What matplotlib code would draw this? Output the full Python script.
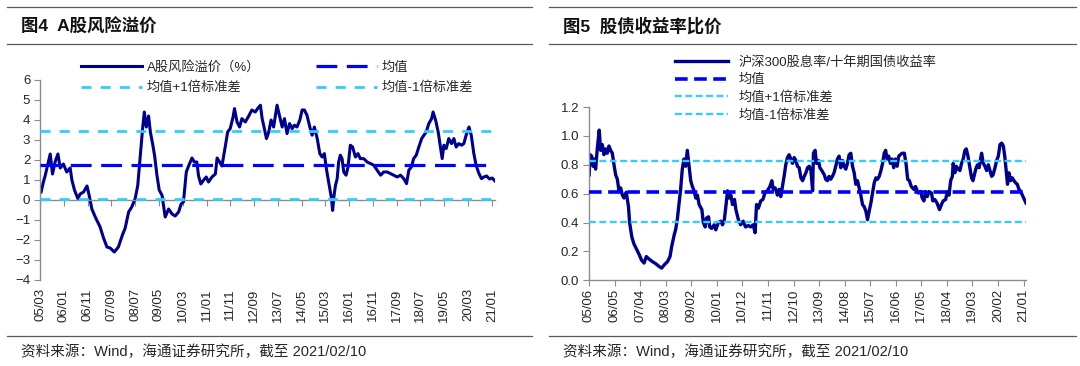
import numpy as np
import pandas as pd
import matplotlib
matplotlib.use('Agg')
import matplotlib.pyplot as plt
import matplotlib.dates as mdates
from matplotlib.lines import Line2D
from matplotlib.ticker import FormatStrFormatter

plt.rcParams['font.family'] = ['Liberation Sans', 'Noto Sans CJK SC']

# ---- data ----
# fig 4: A-share risk premium, x as decimal years
erp_t = [2005.20, 2005.28, 2005.34, 2005.52, 2005.60, 2005.69, 2005.79, 2005.87, 2005.98,
         2006.10, 2006.22, 2006.28, 2006.37, 2006.49, 2006.57, 2006.69, 2006.81, 2006.89, 2006.98,
         2007.10, 2007.27, 2007.39, 2007.51, 2007.62, 2007.77, 2007.91,
         2008.05, 2008.15, 2008.27, 2008.38, 2008.50, 2008.59, 2008.68, 2008.76, 2008.82, 2008.89, 2008.97,
         2009.03, 2009.11, 2009.18, 2009.26, 2009.34, 2009.44, 2009.55, 2009.67, 2009.79, 2009.90,
         2010.02, 2010.11, 2010.19, 2010.29, 2010.37, 2010.49, 2010.57, 2010.66, 2010.72, 2010.80, 2010.90, 2010.99,
         2011.07, 2011.19, 2011.31, 2011.37, 2011.46, 2011.54, 2011.66, 2011.74, 2011.83, 2011.93, 2011.98,
         2012.07, 2012.16, 2012.24, 2012.36, 2012.48, 2012.59, 2012.71, 2012.79, 2012.89, 2012.95,
         2013.00, 2013.10, 2013.18, 2013.26, 2013.35, 2013.47, 2013.56, 2013.65, 2013.73, 2013.82, 2013.91,
         2014.00, 2014.08, 2014.17, 2014.27, 2014.35, 2014.43, 2014.52, 2014.62, 2014.70, 2014.78, 2014.88, 2014.97,
         2015.05, 2015.13, 2015.20, 2015.24, 2015.31, 2015.38, 2015.42, 2015.47, 2015.52, 2015.58, 2015.63,
         2015.69, 2015.75, 2015.81, 2015.89, 2015.96,
         2016.04, 2016.12, 2016.22, 2016.31, 2016.39, 2016.51, 2016.63, 2016.75, 2016.86, 2016.98,
         2017.10, 2017.21, 2017.33, 2017.45, 2017.56, 2017.68, 2017.80, 2017.91,
         2018.01, 2018.09, 2018.18, 2018.26, 2018.35, 2018.44, 2018.54, 2018.62, 2018.70, 2018.79, 2018.89, 2018.94,
         2019.03, 2019.12, 2019.20, 2019.26, 2019.32, 2019.40, 2019.49, 2019.59, 2019.67, 2019.75, 2019.84, 2019.94,
         2020.02, 2020.10, 2020.20, 2020.28, 2020.37, 2020.45, 2020.55, 2020.64, 2020.72, 2020.82, 2020.92,
         2021.01, 2021.11]
erp_v = [0.4, 0.9, 1.2, 2.3, 1.3, 1.9, 2.3, 1.6, 1.8,
         1.4, 1.6, 1.0, 0.5, 0.07, 0.3, 0.4, 0.7, 0.2, -0.45,
         -0.85, -1.35, -1.9, -2.35, -2.4, -2.6, -2.35,
         -1.76, -1.4, -0.6, -0.35, 0.07, 0.73, 2.2, 3.57, 4.4, 3.65, 4.2,
         3.4, 2.8, 2.2, 1.24, 0.5, 0.23, -0.85, -0.45, -0.7, -0.8,
         -0.6, -0.2, -0.1, 1.4, 1.7, 2.1, 1.9, 1.9, 1.2, 0.8, 1.0, 1.15,
         0.9, 1.15, 1.3, 2.1, 1.9, 1.7, 2.7, 3.4, 3.57, 4.15, 4.57,
         3.9, 3.65, 4.07, 3.9, 4.2, 4.5, 4.4, 4.57, 4.74, 4.07,
         3.74, 3.07, 3.4, 4.0, 3.65, 4.74, 4.2, 3.65, 4.07, 3.32, 3.82,
         3.57, 3.74, 3.65, 4.0, 4.5, 4.5, 4.24, 3.65, 3.24, 3.65, 3.07, 2.32,
         2.15, 2.32, 1.57, 1.24, 0.65, 0.07, -0.52, 0.23, 0.73, 1.07, 1.9,
         2.24, 2.07, 1.4, 1.24, 1.65,
         2.74, 2.65, 2.15, 2.32, 2.07, 2.07, 1.9, 1.82, 1.74, 1.49,
         1.24, 1.4, 1.4, 1.32, 1.24, 1.15, 1.24, 1.07,
         0.82, 1.49, 1.65, 2.07, 2.24, 2.65, 3.07, 3.24, 3.4, 3.82, 4.07, 4.4,
         3.99, 3.4, 2.65, 2.07, 2.74, 2.57, 3.07, 2.82, 3.07, 2.65, 2.82, 2.74,
         2.82, 3.24, 3.65, 3.24, 2.32, 1.74, 1.32, 1.07, 1.15, 1.2, 1.05,
         1.1, 0.95]
erp_mean = 1.74
erp_std = 1.71
erp_ticks = ['05/03', '06/01', '06/11', '07/09', '08/07', '09/05', '10/03', '11/01', '11/11', '12/09',
             '13/07', '14/05', '15/03', '16/01', '16/11', '17/09', '18/07', '19/05', '20/03', '21/01']

# fig 5: CSI300 dividend yield / 10y government bond yield
ratio_t = [2005.42, 2005.45, 2005.51, 2005.56, 2005.61, 2005.65, 2005.71, 2005.78, 2005.83, 2005.89, 2005.95,
           2006.01, 2006.07, 2006.13, 2006.19, 2006.25, 2006.31, 2006.37, 2006.43, 2006.49, 2006.55, 2006.61,
           2006.67, 2006.75, 2006.83, 2006.87, 2006.95,
           2007.03, 2007.11, 2007.21, 2007.30, 2007.39, 2007.47, 2007.57, 2007.69, 2007.81, 2007.93,
           2008.02, 2008.11, 2008.23, 2008.32, 2008.38, 2008.47, 2008.52, 2008.58, 2008.64, 2008.70, 2008.76,
           2008.82, 2008.88, 2008.94,
           2009.00, 2009.06, 2009.12, 2009.18, 2009.24, 2009.30, 2009.36, 2009.46, 2009.51, 2009.58, 2009.62,
           2009.70, 2009.74, 2009.81, 2009.90, 2009.96,
           2010.05, 2010.14, 2010.20, 2010.26, 2010.32, 2010.38, 2010.44, 2010.50, 2010.56, 2010.63, 2010.68,
           2010.77, 2010.85, 2010.94,
           2011.03, 2011.13, 2011.21, 2011.30, 2011.37, 2011.42, 2011.49, 2011.57, 2011.65, 2011.73, 2011.81,
           2011.90, 2011.97,
           2012.02, 2012.09, 2012.17, 2012.23, 2012.29, 2012.35, 2012.41, 2012.47, 2012.53, 2012.59, 2012.65,
           2012.71, 2012.77, 2012.83, 2012.89, 2012.95,
           2013.01, 2013.07, 2013.13, 2013.19, 2013.25, 2013.31, 2013.37, 2013.43, 2013.46, 2013.52, 2013.57,
           2013.64, 2013.69, 2013.76, 2013.85, 2013.90, 2013.96,
           2014.02, 2014.08, 2014.14, 2014.20, 2014.26, 2014.32, 2014.38, 2014.44, 2014.50, 2014.56, 2014.62,
           2014.68, 2014.74, 2014.80, 2014.86, 2014.92, 2014.98,
           2015.04, 2015.10, 2015.16, 2015.22, 2015.28, 2015.34, 2015.40, 2015.46, 2015.52, 2015.58, 2015.64,
           2015.70, 2015.76, 2015.82, 2015.88, 2015.94,
           2016.00, 2016.05, 2016.10, 2016.16, 2016.22, 2016.28, 2016.34, 2016.40, 2016.46, 2016.52, 2016.58,
           2016.64, 2016.72, 2016.78, 2016.84, 2016.90, 2016.97,
           2017.06, 2017.12, 2017.21, 2017.30, 2017.36, 2017.42, 2017.48, 2017.54, 2017.60, 2017.69, 2017.74,
           2017.81, 2017.89, 2017.98,
           2018.05, 2018.11, 2018.20, 2018.26, 2018.32, 2018.38, 2018.44, 2018.47, 2018.53, 2018.58, 2018.65,
           2018.71, 2018.77, 2018.83, 2018.89, 2018.94,
           2019.00, 2019.06, 2019.13, 2019.18, 2019.23, 2019.28, 2019.34, 2019.40, 2019.46, 2019.49, 2019.55,
           2019.61, 2019.67, 2019.73, 2019.79, 2019.85, 2019.90, 2019.97,
           2020.03, 2020.09, 2020.15, 2020.21, 2020.27, 2020.32, 2020.38, 2020.42, 2020.47, 2020.53, 2020.59,
           2020.65, 2020.71, 2020.77, 2020.83, 2020.88, 2020.94,
           2021.00, 2021.08]
ratio_v = [0.73, 0.87, 0.86, 0.79, 0.84, 0.77, 0.91, 1.04, 0.90, 0.94, 0.87,
           0.91, 0.88, 0.93, 0.90, 0.88, 0.80, 0.73, 0.70, 0.62, 0.64, 0.59,
           0.57, 0.61, 0.51, 0.40, 0.30,
           0.25, 0.22, 0.18, 0.14, 0.12, 0.165, 0.147, 0.13, 0.115, 0.096,
           0.085, 0.107, 0.13, 0.165, 0.235, 0.315, 0.35, 0.42, 0.525, 0.63, 0.77,
           0.84, 0.79, 0.90,
           0.79, 0.69, 0.65, 0.62, 0.57, 0.59, 0.525, 0.49, 0.40, 0.37, 0.43,
           0.44, 0.37, 0.36, 0.385, 0.35,
           0.40, 0.41, 0.385, 0.41, 0.51, 0.62, 0.57, 0.59, 0.525, 0.56, 0.49,
           0.42, 0.385, 0.41,
           0.37, 0.38, 0.37, 0.385, 0.33, 0.525, 0.50, 0.55, 0.56, 0.61, 0.62,
           0.65, 0.69,
           0.63, 0.64, 0.59, 0.63, 0.58, 0.65, 0.72, 0.80, 0.85, 0.87, 0.84,
           0.81, 0.85, 0.83, 0.79, 0.78,
           0.71, 0.69, 0.72, 0.745, 0.78, 0.79, 0.76, 0.62, 0.88, 0.90, 0.81,
           0.83, 0.78, 0.76, 0.73, 0.70, 0.69,
           0.72, 0.70, 0.72, 0.745, 0.79, 0.84, 0.86, 0.78, 0.83, 0.79, 0.77,
           0.81, 0.87, 0.88, 0.79, 0.745, 0.665,
           0.69, 0.64, 0.59, 0.525, 0.51, 0.48, 0.42, 0.48, 0.535, 0.605, 0.675,
           0.71, 0.70, 0.72, 0.76, 0.81,
           0.88, 0.90, 0.84, 0.86, 0.81, 0.84, 0.78, 0.84, 0.79, 0.86, 0.87,
           0.88, 0.88, 0.81, 0.70, 0.69, 0.65,
           0.63, 0.65, 0.605, 0.615, 0.57, 0.55, 0.615, 0.58, 0.615, 0.605, 0.55,
           0.56, 0.535, 0.49,
           0.525, 0.55, 0.56, 0.615, 0.59, 0.69, 0.72, 0.81, 0.745, 0.79, 0.77,
           0.76, 0.81, 0.84, 0.90, 0.91,
           0.86, 0.79, 0.71, 0.69, 0.73, 0.77, 0.80, 0.78, 0.85, 0.88, 0.81,
           0.79, 0.76, 0.80, 0.76, 0.72, 0.73, 0.78,
           0.83, 0.86, 0.94, 0.95, 0.93, 0.86, 0.745, 0.665, 0.745, 0.69, 0.71,
           0.69, 0.675, 0.665, 0.63, 0.62, 0.595,
           0.57, 0.535]
ratio_mean = 0.614
ratio_std = 0.212
ratio_ticks = ['05/06', '06/05', '07/04', '08/03', '09/02', '10/01', '10/12', '11/11', '12/10',
               '13/09', '14/08', '15/07', '16/06', '17/05', '18/04', '19/03', '20/02', '21/01']

# ---- styles ----
W, H = 1080, 366
navy = '#000090'
blue = '#0000FF'
cyan = '#33CCFF'
axis_gray = '#8C8C8C'
rule_gray = '#5A5A5A'
txt = '#262626'


def to_num(years):
    out = []
    for y in years:
        yr = int(y)
        out.append(pd.Timestamp(yr, 1, 1) + pd.Timedelta(days=(y - yr) * 365.25))
    return mdates.date2num(out)


def label_num(labels):
    return mdates.date2num(pd.to_datetime(labels, format='%y/%m'))


def style_axes(ax, labels, x_end):
    ticks = label_num(labels)
    ax.set_xlim(ticks[0], to_num([x_end])[0])
    for s in ['top', 'right']:
        ax.spines[s].set_visible(False)
    for s in ['left', 'bottom']:
        ax.spines[s].set_color(axis_gray)
        ax.spines[s].set_linewidth(1.0)
    ax.spines['bottom'].set_position(('data', 0))
    ax.set_xticks(ticks)
    ax.tick_params(axis='x', labelbottom=False, direction='out', length=4, color=axis_gray)
    ax.tick_params(axis='y', direction='out', length=4, color=axis_gray,
                   labelsize=9.5, labelcolor=txt, pad=3)
    sec = ax.secondary_xaxis(0)
    sec.set_xticks(ticks, labels, rotation=90)
    sec.spines['bottom'].set_visible(False)
    sec.tick_params(length=0, labelsize=9.5, labelcolor=txt, pad=6)


fig = plt.figure(figsize=(W / 100, H / 100), dpi=100)

# ---- figure 4 ----
ax1 = fig.add_axes([40 / W, 1 - 280 / H, 455 / W, 200 / H])
h_main1, = ax1.plot(to_num(erp_t), erp_v, color=navy, lw=2.2, zorder=2)
h_mean1 = ax1.axhline(erp_mean, color=blue, lw=2.3, dashes=(6.5, 3), zorder=3)
h_up1 = ax1.axhline(erp_mean + erp_std, color=cyan, lw=2.0, dashes=(3.6, 3.3), zorder=3)
h_dn1 = ax1.axhline(erp_mean - erp_std, color=cyan, lw=2.0, dashes=(3.6, 3.3), zorder=3)
ax1.set_ylim(-4, 6)
ax1.set_yticks(range(-4, 7))
style_axes(ax1, erp_ticks, 2021.11)

fig.legend([h_main1, h_up1, h_mean1, h_dn1],
           ['A股风险溢价（%）', '均值+1倍标准差', '均值', '均值-1倍标准差'],
           loc='upper left', bbox_to_anchor=(81 / W, 1 - 61 / H), ncol=2, frameon=False,
           fontsize=9.5, handlelength=4.6, handletextpad=0.4, columnspacing=4.2,
           borderpad=0, borderaxespad=0, labelspacing=0.6, labelcolor=txt)

# ---- figure 5 ----
ax2 = fig.add_axes([589 / W, 1 - 280.4 / H, 437 / W, 173.4 / H])
h_main2, = ax2.plot(to_num(ratio_t), ratio_v, color=navy, lw=2.4, zorder=2)
h_mean2 = ax2.axhline(ratio_mean, color=blue, lw=2.6, dashes=(3.5, 1.8), zorder=3)
h_up2 = ax2.axhline(ratio_mean + ratio_std, color=cyan, lw=1.7, dashes=(2.9, 1.5), zorder=3)
h_dn2 = ax2.axhline(ratio_mean - ratio_std, color=cyan, lw=1.7, dashes=(2.9, 1.5), zorder=3)
ax2.set_ylim(0, 1.2)
ax2.set_yticks(np.arange(0, 1.21, 0.2))
ax2.yaxis.set_major_formatter(FormatStrFormatter('%.1f'))
style_axes(ax2, ratio_ticks, 2021.08)

fig.legend([h_main2, h_mean2, h_up2, h_dn2],
           ['沪深300股息率/十年期国债收益率', '均值', '均值+1倍标准差', '均值-1倍标准差'],
           loc='upper left', bbox_to_anchor=(675 / W, 1 - 56 / H), ncol=1, frameon=False,
           fontsize=9.5, handlelength=4.0, handletextpad=0.8,
           borderpad=0, borderaxespad=0, labelspacing=0.4, labelcolor=txt)

# ---- titles, rules, sources ----
for x0, x1, title in [(7, 532, '图4  A股风险溢价'), (549, 1076, '图5  股债收益率比价')]:
    for yy in [7.3, 43.5, 336]:
        fig.add_artist(Line2D([x0 / W, x1 / W], [1 - yy / H, 1 - yy / H],
                              transform=fig.transFigure, color=rule_gray, lw=0.9))
    fig.text((x0 + 14) / W, 1 - 26 / H, title, fontsize=12.5, fontweight='bold',
             va='center', color='#111111')
    fig.text((x0 + 14) / W, 1 - 352 / H, '资料来源：Wind，海通证券研究所，截至 2021/02/10',
             fontsize=10.5, va='center', color=txt)

fig.savefig('out.png', dpi=100)
